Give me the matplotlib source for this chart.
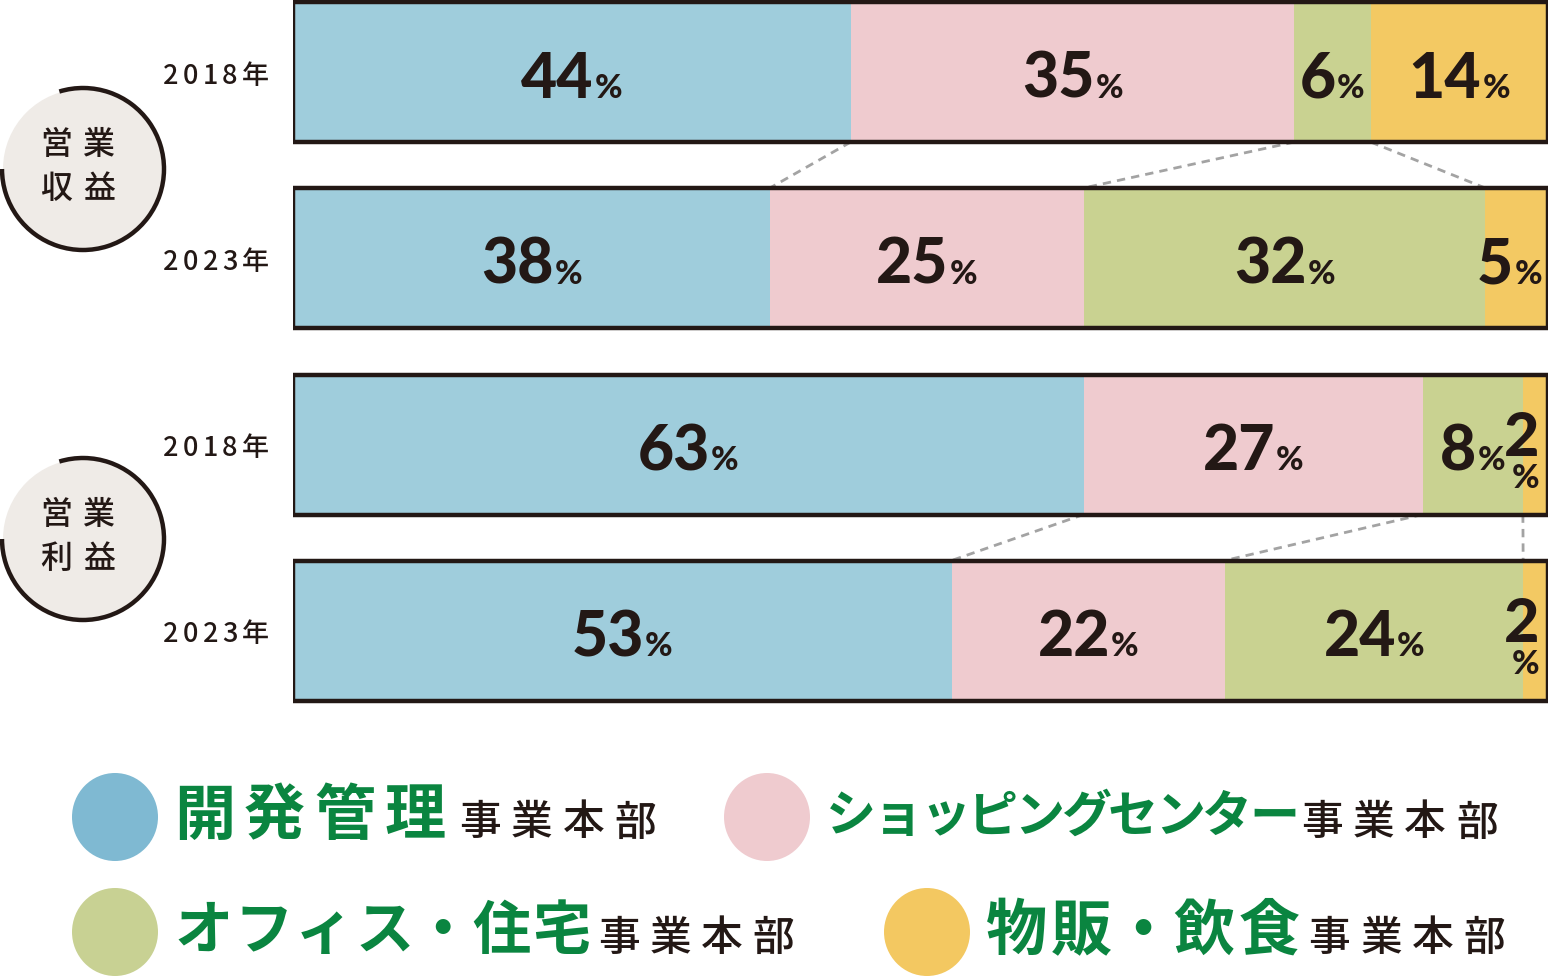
import matplotlib
matplotlib.use("Agg")
import matplotlib.pyplot as plt
from matplotlib.patches import Circle, Arc, Ellipse
import numpy as np

plt.rcParams['font.family'] = ['Noto Sans CJK JP', 'DejaVu Sans']

# ---- data ----
years = ["2018年", "2023年"]
groups = ["営業収益", "営業利益"]
segments = ["開発管理", "ショッピングセンター", "オフィス・住宅", "物販・飲食"]
suffix = "事業本部"
revenue_2018 = [44, 35, 6, 14]
revenue_2023 = [38, 25, 32, 5]
profit_2018 = [63, 27, 8, 2]
profit_2023 = [53, 22, 24, 2]

bar_colors = ["#9fcddc", "#efcbcf", "#c9d291", "#f3c963"]
legend_colors = ["#7fb9d2", "#efcbcf", "#c8d193", "#f3c861"]
DARK = "#231815"
GREEN = "#0a8540"
CIRCLE_BG = "#efebe7"
DASH = "#a3a3a3"

W, H = 1550, 978
fig = plt.figure(figsize=(W / 100, H / 100), dpi=100)
fig.patch.set_facecolor('white')

bx = fig.add_axes([293 / W, 0, 1255 / W, 1])
bx.set_xlim(0, 1); bx.set_ylim(H, 0); bx.axis('off')
bx.set_zorder(1)
ov = fig.add_axes([0, 0, 1, 1])
ov.set_xlim(0, W); ov.set_ylim(H, 0); ov.axis('off')
ov.set_zorder(5)
ov.patch.set_alpha(0)

renderer = fig.canvas.get_renderer()

def width_of(t):
    return t.get_window_extent(renderer=renderer).width

def tracked(ax, x, y, s, track, **kw):
    for i, ch in enumerate(s):
        t = ax.text(x, y, ch, ha='left', **kw)
        w = width_of(t)
        nxt = s[i + 1] if i + 1 < len(s) else ''
        tr = 0 if ('・' in (ch, nxt)) else track
        x += w + tr
    return x

rows = [revenue_2018, revenue_2023, profit_2018, profit_2023]
centers = [73, 259, 445.5, 631.5]
BH = 140

fracs, lefts = [], []
for vals, yc in zip(rows, centers):
    v = np.array(vals, float)
    frac = v / v.sum()
    left = np.concatenate([[0], np.cumsum(frac)[:-1]])
    fracs.append(frac); lefts.append(left)
    bx.barh(yc, frac, left=left, height=BH, color=bar_colors, edgecolor='none', zorder=2)
    bx.barh(yc, 1, left=0, height=BH, fill=False, edgecolor=DARK, linewidth=3.2, zorder=4)

# connectors
for up, lo in [(0, 1), (2, 3)]:
    cu = np.cumsum(fracs[up])[:-1]
    cl = np.cumsum(fracs[lo])[:-1]
    for a, b in zip(cu, cl):
        bx.plot([a, b], [centers[up] + BH / 2, centers[lo] - BH / 2], color=DASH,
                lw=2.0, ls=(0, (3, 2.2)), zorder=1, solid_capstyle='butt')

# value labels
NUMKW = dict(family=['Lato', 'DejaVu Sans'], fontweight='black', color=DARK, va='baseline', zorder=6)
for i, (vals, yc) in enumerate(zip(rows, centers)):
    for v, f, l in zip(vals, fracs[i], lefts[i]):
        xc = bx.transData.transform((l + f / 2, yc))[0]
        xr = bx.transData.transform((l + f, yc))[0]
        if v < 4:
            ov.text(xc - 14, yc + 11, str(v), ha='center', fontsize=44, **NUMKW)
            ov.text(xc - 10, yc + 43, "%", ha='center', fontsize=24, **NUMKW)
        else:
            t1 = ov.text(0, yc + 25, str(v), ha='left', fontsize=45, **NUMKW)
            t2 = ov.text(0, yc + 25, "%", ha='left', fontsize=24, **NUMKW)
            w1, w2 = width_of(t1), width_of(t2)
            gap = 1
            tot = w1 + gap + w2
            x0 = xc - tot / 2
            if x0 + tot > xr - 6:
                x0 = xr - 6 - tot
            t1.set_x(x0)
            t2.set_x(x0 + w1 + gap)

# year labels
for yc, yr in zip(centers, years * 2):
    tracked(ov, 163, yc + 3, yr, 4.3, fontsize=19.5, fontweight='medium', color=DARK, va='center')

# group circles
for g, cy in zip(groups, [170, 540]):
    ov.add_patch(Circle((83, cy), 80, fc=CIRCLE_BG, ec='none', zorder=1))
    ov.add_patch(Arc((83, cy), 162, 162, theta1=253, theta2=540, color=DARK, lw=3.2, zorder=2))
    for k, ch in enumerate(g):
        ov.text(56 + 43 * (k % 2), cy - 25 + 44 * (k // 2), ch, ha='center', va='center',
                fontsize=23, fontweight='medium', color=DARK, zorder=3)

# legend
leg_pos = [(115, 818), (767, 818), (115, 933), (927, 933)]
leg_font = [44, 36, 42, 44]
leg_track = [9, -3, 2, 4]
for (cx, cy), name, col, fs, tr in zip(leg_pos, segments, legend_colors, leg_font, leg_track):
    ov.add_patch(Ellipse((cx, cy), 86, 88, fc=col, ec='none'))
    xe = tracked(ov, cx + 59, cy - 1, name, tr, fontsize=fs, fontweight='bold', color=GREEN, va='center')
    tracked(ov, xe + 5, cy + 5, suffix, 10, fontsize=30, fontweight='medium', color=DARK, va='center')

fig.savefig("out.png", dpi=100, facecolor='white')
